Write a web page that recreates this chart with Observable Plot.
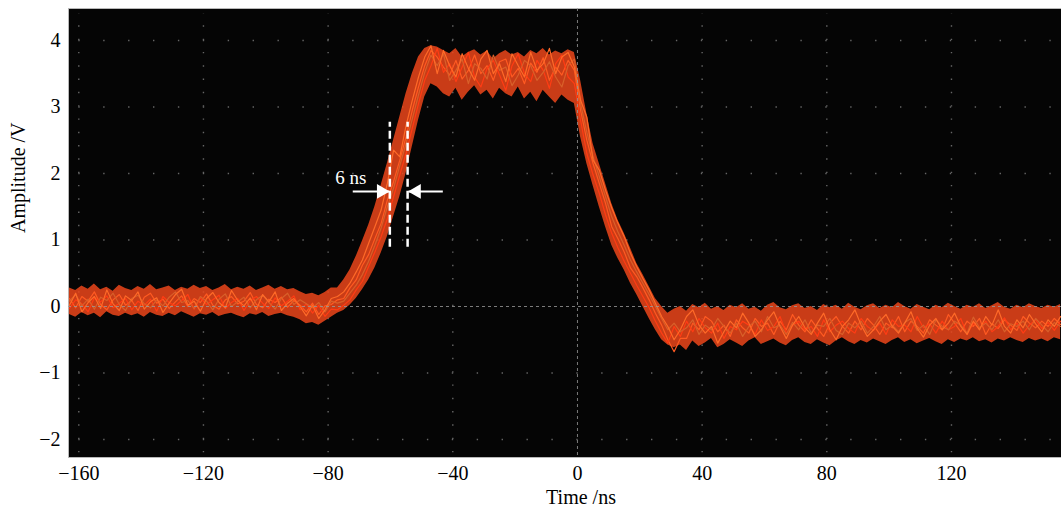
<!DOCTYPE html>
<html><head><meta charset="utf-8">
<script src="https://cdn.jsdelivr.net/npm/d3@7"></script>
<script src="https://cdn.jsdelivr.net/npm/@observablehq/plot@0.6"></script>
<style>body{margin:0;background:#fff}</style>
</head><body><div id="chart"></div>
<script>
// sample times (ns)
const times = [
-163,-161,-159,-157,-155,-153,-151,-149,-147,-145,-143,-141,-139,-137,-135,-133,-131,-129,-127,-125,-123,-121,-119,-117,-115,-113,-111,-109,-107,-105,-103,-101,-99,-97,-95,-93,-91,-89,-87,-85,-83,-81,-79,
-77,-75,-73,-71,-69,-67,-65,-63,-61,-59,-57,-55,-53,-51,-49,-47,
-45,-43,-41,-39,-37,-35,-33,-31,-29,-27,-25,-23,-21,-19,-17,-15,-13,-11,-9,-7,-5,-3,-1,
1,3,5,7,9,11,13,15,17,19,21,23,25,27,29,
31,33,35,37,39,41,43,45,47,49,51,53,55,57,59,61,63,65,67,69,71,73,75,77,79,81,83,85,87,89,91,93,95,97,99,101,103,105,107,109,111,113,115,117,119,121,123,125,127,129,131,133,135,137,139,141,143,145,147,149,151,153,155];

// amplitude traces (V)
const trace1 = [
0.12,-0.02,0.15,0.08,0.22,0.03,-0.05,0.10,0.18,0.02,0.09,-0.06,0.14,0.20,0.05,0.11,-0.03,0.07,0.16,0.00,0.12,0.06,0.19,0.02,-0.04,0.10,0.15,0.04,0.08,0.21,0.03,-0.02,0.11,0.06,0.14,-0.01,0.09,0.02,-0.08,0.05,-0.12,0.01,0.03,
0.10,0.12,0.28,0.40,0.62,0.78,1.02,1.25,1.60,1.88,2.20,2.55,2.95,3.30,3.62,3.85,
3.75,3.60,3.48,3.70,3.42,3.55,3.78,3.50,3.62,3.40,3.68,3.72,3.45,3.58,3.35,3.66,3.52,3.74,3.40,3.60,3.48,3.70,3.55,
2.95,2.50,2.15,1.85,1.55,1.20,1.02,0.82,0.58,0.45,0.28,0.10,-0.10,-0.28,-0.50,
-0.68,-0.48,-0.48,-0.25,-0.35,-0.15,-0.22,-0.38,-0.28,-0.45,-0.20,-0.32,-0.40,-0.18,-0.30,-0.25,-0.42,-0.22,-0.35,-0.12,-0.28,-0.38,-0.20,-0.33,-0.45,-0.25,-0.15,-0.30,-0.40,-0.22,-0.35,-0.18,-0.28,-0.42,-0.25,-0.32,-0.15,-0.38,-0.22,-0.30,-0.40,-0.20,-0.28,-0.35,-0.12,-0.25,-0.38,-0.22,-0.30,-0.18,-0.42,-0.26,-0.33,-0.20,-0.28,-0.36,-0.15,-0.25,-0.32,-0.22,-0.30,-0.18,-0.27];
const trace2 = [
-0.03,0.10,0.04,-0.08,0.13,0.07,0.16,-0.02,0.05,0.12,-0.05,0.08,0.02,0.11,-0.07,0.15,0.06,0.01,0.09,0.18,-0.04,0.13,0.03,0.10,0.17,-0.03,0.06,0.12,-0.06,0.09,0.15,0.05,-0.03,0.13,0.01,0.08,0.16,-0.05,0.04,-0.10,0.02,-0.15,-0.04,
-0.05,0.02,0.10,0.25,0.38,0.60,0.82,1.05,1.32,1.65,1.98,2.30,2.68,3.05,3.40,3.62,
3.88,3.52,3.65,3.38,3.60,3.82,3.45,3.30,3.58,3.70,3.48,3.25,3.62,3.80,3.50,3.38,3.70,3.55,3.28,3.65,3.78,3.45,3.35,
2.80,2.30,1.98,1.70,1.38,1.10,0.88,0.68,0.50,0.32,0.15,-0.02,-0.22,-0.40,-0.55,
-0.30,-0.45,-0.22,-0.38,-0.18,-0.32,-0.40,-0.25,-0.48,-0.30,-0.35,-0.22,-0.28,-0.42,-0.20,-0.36,-0.30,-0.15,-0.40,-0.28,-0.22,-0.35,-0.30,-0.45,-0.20,-0.38,-0.28,-0.22,-0.33,-0.40,-0.18,-0.30,-0.36,-0.25,-0.42,-0.20,-0.30,-0.28,-0.38,-0.15,-0.32,-0.26,-0.40,-0.22,-0.35,-0.30,-0.18,-0.42,-0.25,-0.33,-0.22,-0.38,-0.30,-0.17,-0.35,-0.25,-0.40,-0.28,-0.20,-0.33,-0.24,-0.36,-0.22];
const trace3 = [
0.08,0.18,0.01,0.11,-0.04,0.14,0.09,0.20,0.03,-0.06,0.12,0.17,0.04,-0.02,0.10,0.01,0.14,0.22,0.06,0.09,-0.03,0.15,0.08,-0.05,0.11,0.19,0.00,0.07,0.14,-0.02,0.10,0.17,0.06,-0.04,0.12,0.20,0.03,0.10,0.04,-0.02,0.06,-0.08,0.08,
0.05,0.08,0.20,0.32,0.48,0.68,0.92,1.18,1.50,1.78,2.12,2.45,2.82,3.18,3.52,3.78,
3.62,3.80,3.40,3.55,3.72,3.35,3.65,3.58,3.42,3.78,3.55,3.60,3.32,3.48,3.70,3.62,3.40,3.52,3.68,3.45,3.30,3.62,3.72,
3.05,2.62,2.25,1.95,1.65,1.35,1.12,0.92,0.70,0.52,0.35,0.18,0.00,-0.18,-0.35,
-0.25,-0.38,-0.32,-0.20,-0.42,-0.28,-0.35,-0.18,-0.30,-0.40,-0.25,-0.45,-0.30,-0.22,-0.38,-0.15,-0.32,-0.28,-0.42,-0.24,-0.35,-0.20,-0.40,-0.28,-0.30,-0.18,-0.36,-0.42,-0.25,-0.32,-0.22,-0.40,-0.30,-0.15,-0.35,-0.28,-0.38,-0.24,-0.18,-0.36,-0.28,-0.42,-0.20,-0.30,-0.35,-0.22,-0.28,-0.40,-0.16,-0.32,-0.25,-0.35,-0.20,-0.38,-0.26,-0.30,-0.22,-0.35,-0.18,-0.28,-0.38,-0.24,-0.30];
const trace4 = [
0.02,0.20,-0.08,0.06,0.15,-0.03,0.25,0.04,-0.06,0.16,0.09,0.22,-0.04,0.07,0.13,-0.09,0.05,0.18,0.26,0.02,0.08,-0.07,0.12,0.21,0.06,-0.02,0.24,0.09,0.01,0.13,-0.05,0.18,0.07,0.22,-0.06,0.05,0.12,0.00,-0.14,0.02,-0.18,-0.05,0.12,
0.15,0.22,0.35,0.52,0.70,0.95,1.20,1.45,1.85,2.35,2.25,2.72,3.10,3.45,3.75,3.92,
3.50,3.85,3.62,3.45,3.80,3.58,3.40,3.72,3.85,3.50,3.65,3.38,3.80,3.62,3.45,3.82,3.55,3.65,3.88,3.50,3.75,3.82,3.60,
3.10,2.85,2.20,2.05,1.75,1.48,1.25,1.05,0.80,0.60,0.42,0.25,0.05,-0.15,-0.30,
-0.50,-0.35,-0.15,-0.05,-0.28,-0.40,-0.30,-0.55,-0.38,-0.22,-0.32,-0.10,-0.25,-0.45,-0.35,-0.20,-0.08,-0.30,-0.48,-0.28,-0.15,-0.32,-0.42,-0.25,-0.10,-0.35,-0.50,-0.30,-0.20,-0.05,-0.28,-0.45,-0.35,-0.22,-0.12,-0.30,-0.40,-0.25,-0.08,-0.33,-0.46,-0.28,-0.18,-0.35,-0.25,-0.10,-0.30,-0.42,-0.22,-0.35,-0.15,-0.28,-0.05,-0.30,-0.40,-0.20,-0.32,-0.12,-0.26,-0.38,-0.20,-0.30,-0.15];

// envelope of the overlapping traces (V)
const bandUpper = [
0.28,0.24,0.31,0.26,0.34,0.25,0.29,0.23,0.32,0.27,0.24,0.30,0.26,0.33,0.25,0.28,0.31,0.24,0.29,0.26,0.32,0.27,0.30,0.24,0.28,0.33,0.25,0.29,0.26,0.31,0.24,0.28,0.32,0.26,0.30,0.25,0.27,0.22,0.18,0.20,0.16,0.21,0.28,
0.28,0.40,0.55,0.75,0.98,1.22,1.50,1.82,2.15,2.50,2.85,3.20,3.50,3.75,3.88,3.92,
3.90,3.85,3.80,3.88,3.75,3.82,3.86,3.78,3.84,3.72,3.80,3.85,3.78,3.82,3.75,3.85,3.80,3.88,3.78,3.84,3.80,3.86,3.82,
3.40,2.90,2.45,2.15,1.85,1.55,1.30,1.10,0.88,0.65,0.48,0.30,0.12,0.00,-0.10,
-0.04,0.00,-0.07,0.03,-0.02,0.05,-0.04,0.00,-0.06,0.02,-0.02,0.04,-0.04,-0.01,-0.07,0.02,0.06,-0.02,-0.05,0.01,0.04,-0.03,0.00,-0.06,0.03,-0.02,0.02,-0.04,0.05,-0.01,-0.05,0.01,0.04,-0.03,0.02,-0.02,0.06,0.00,-0.04,0.03,-0.01,-0.05,0.02,-0.02,0.05,0.00,-0.04,0.02,-0.01,0.04,-0.03,0.01,0.06,-0.01,-0.04,0.02,-0.02,0.04,0.00,-0.03,0.02,-0.01,0.03];
const bandLower = [
-0.12,-0.16,-0.09,-0.14,-0.10,-0.17,-0.08,-0.13,-0.15,-0.10,-0.14,-0.11,-0.16,-0.09,-0.13,-0.15,-0.10,-0.14,-0.08,-0.12,-0.16,-0.11,-0.13,-0.09,-0.15,-0.12,-0.10,-0.14,-0.17,-0.11,-0.13,-0.09,-0.15,-0.12,-0.10,-0.14,-0.16,-0.20,-0.26,-0.24,-0.28,-0.22,-0.16,
-0.10,-0.06,0.02,0.12,0.25,0.40,0.58,0.80,1.05,1.35,1.65,2.00,2.40,2.80,3.15,3.35,
3.30,3.20,3.15,3.28,3.10,3.22,3.32,3.18,3.25,3.12,3.28,3.20,3.15,3.30,3.12,3.22,3.08,3.25,3.15,3.05,3.18,3.10,3.05,
2.55,2.15,1.82,1.50,1.20,0.92,0.72,0.55,0.35,0.18,0.00,-0.18,-0.35,-0.50,-0.58,
-0.62,-0.58,-0.66,-0.52,-0.60,-0.55,-0.48,-0.62,-0.57,-0.50,-0.55,-0.60,-0.52,-0.47,-0.57,-0.53,-0.49,-0.55,-0.59,-0.51,-0.47,-0.54,-0.57,-0.50,-0.55,-0.59,-0.52,-0.47,-0.53,-0.57,-0.51,-0.55,-0.49,-0.53,-0.57,-0.51,-0.47,-0.54,-0.50,-0.56,-0.52,-0.48,-0.53,-0.57,-0.50,-0.54,-0.49,-0.52,-0.47,-0.53,-0.50,-0.55,-0.49,-0.52,-0.47,-0.51,-0.54,-0.48,-0.52,-0.49,-0.53,-0.47,-0.50];

// axes
const xTicks = [-160, -120, -80, -40, 0, 40, 80, 120];
const yTicks = [-2, -1, 0, 1, 2, 3, 4];
const xLabel = "Time /ns";
const yLabel = "Amplitude /V";

// rise-time annotation (6 ns)
const riseMarkers = [-60.2, -54.5];
const markerSpan = [0.89, 2.77];
const arrowLevel = 1.73;
const arrowLeft = [-72.1, -60.4];
const arrowRight = [-43.2, -54.2];
const annotationText = "6 ns";
const annotationAt = [-72.7, 1.94];

const traces = [trace1, trace2, trace3, trace4];
const traceColors = ["#ff5a22", "#ff3c14", "#d8602a", "#ff6a28"];
const bandRows = times.map((t, i) => ({t, hi: bandUpper[i], lo: bandLower[i]}));
const fmt = d => d < 0 ? "\u2212" + Math.abs(d) : String(d);
const serif = "'Liberation Serif', 'Times New Roman', serif";

const chart = Plot.plot({
  width: 1061, height: 513,
  marginLeft: 68, marginRight: 0, marginTop: 8, marginBottom: 56,
  x: {domain: [-163.3, 155.3]},
  y: {domain: [-2.27, 4.48]},
  style: {fontFamily: serif, fontSize: "20px", color: "#000", background: "#fff"},
  marks: [
    Plot.frame({fill: "#050505", stroke: "#b8b8b8"}),
    Plot.ruleX(xTicks.filter(d => d !== 0), {y1: -2.2, y2: 4.4, stroke: "#666", strokeWidth: 1.4, strokeDasharray: "1.4,11.9"}),
    Plot.ruleY(yTicks.filter(d => d !== 0), {x1: -160, x2: 152, stroke: "#666", strokeWidth: 1.4, strokeDasharray: "1.4,23.5"}),
    Plot.areaY(bandRows, {x: "t", y1: "lo", y2: "hi", fill: "#ec461b", fillOpacity: 0.85}),
    ...traces.map((vals, k) => Plot.line(vals, {x: (d, i) => times[i], y: d => d, stroke: traceColors[k], strokeWidth: 1.2})),
    Plot.ruleX([0], {stroke: "#9a9a9a", strokeWidth: 1, strokeDasharray: "3,3", strokeOpacity: 0.8}),
    Plot.ruleY([0], {stroke: "#9a9a9a", strokeWidth: 1, strokeDasharray: "3,3", strokeOpacity: 0.8}),
    Plot.ruleX(riseMarkers, {y1: markerSpan[0], y2: markerSpan[1], stroke: "#fff", strokeWidth: 2.5, strokeDasharray: "8,4"}),
    Plot.link([arrowLeft, arrowRight], {x1: d => d[0], x2: d => d[1], y1: arrowLevel, y2: arrowLevel, stroke: "#fff", strokeWidth: 2}),
    Plot.dot([arrowLeft], {x: d => d[1], y: arrowLevel, symbol: "triangle", r: 5.5, fill: "#fff", stroke: "none", rotate: 90, dx: -8}),
    Plot.dot([arrowRight], {x: d => d[1], y: arrowLevel, symbol: "triangle", r: 5.5, fill: "#fff", stroke: "none", rotate: -90, dx: 8}),
    Plot.text([annotationText], {x: annotationAt[0], y: annotationAt[1], text: d => d, fill: "#fff", fontSize: 19, fontFamily: serif}),
    Plot.axisX({ticks: xTicks, tickSize: 0, tickPadding: 8, tickFormat: fmt, label: null, fontSize: 20}),
    Plot.axisY({ticks: yTicks, tickSize: 0, tickPadding: 8, tickFormat: fmt, label: null, fontSize: 20}),
    Plot.text([xLabel], {text: d => d, frameAnchor: "bottom", dy: 46, dx: 16, fontSize: 20, fill: "#000"}),
    Plot.text([yLabel], {text: d => d, frameAnchor: "left", dx: -50, rotate: -90, fontSize: 20, fill: "#000"})
  ]
});
document.getElementById("chart").appendChild(chart);
</script>
</body></html>
